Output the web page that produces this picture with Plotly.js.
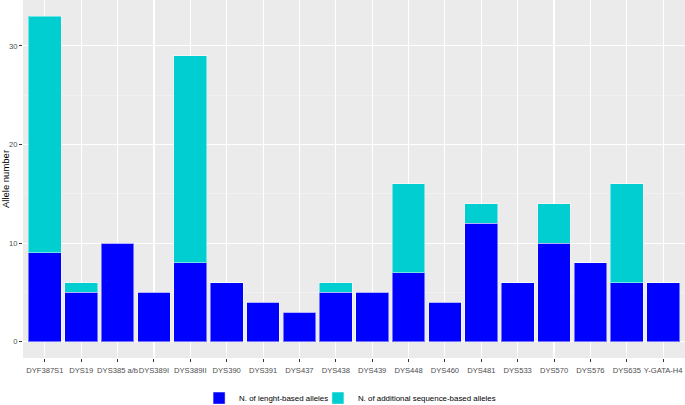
<!DOCTYPE html>
<html>
<head>
<meta charset="utf-8">
<script src="https://cdn.plot.ly/plotly-3.0.1.min.js"></script>
<style>
  html, body { margin: 0; padding: 0; background: #fff; }
  #chart { width: 685px; height: 405px; }
</style>
</head>
<body>
<div id="chart"></div>
<script>
const markers = ['DYF387S1', 'DYS19', 'DYS385 a/b', 'DYS389I', 'DYS389II', 'DYS390', 'DYS391', 'DYS437', 'DYS438', 'DYS439', 'DYS448', 'DYS460', 'DYS481', 'DYS533', 'DYS570', 'DYS576', 'DYS635', 'Y-GATA-H4'];
const lengthBased = [9, 5, 10, 5, 8, 6, 4, 3, 5, 5, 7, 4, 12, 6, 10, 8, 6, 6];
const additional = [24, 1, 0, 0, 21, 0, 0, 0, 1, 0, 9, 0, 2, 0, 4, 0, 10, 0];

const data = [
  {
    x: markers,
    y: lengthBased,
    type: 'bar',
    name: 'N. of lenght-based alleles',
    legend: 'legend',
    width: 0.9,
    marker: {color: '#0000FF', line: {color: 'rgba(255,255,255,0.45)', width: 1}},
    hoverinfo: 'x+y'
  },
  {
    x: markers,
    y: additional,
    type: 'bar',
    name: 'N. of additional sequence-based alleles',
    legend: 'legend2',
    width: 0.9,
    marker: {color: '#00CED1', line: {color: 'rgba(255,255,255,0.45)', width: 1}},
    hoverinfo: 'x+y'
  }
];

// two legends so the gap between entries can be set like ggplot's
const legendBase = {
  orientation: 'h',
  xanchor: 'left',
  y: -0.112, yanchor: 'middle',
  font: {size: 7.9, color: '#000000'},
  bgcolor: 'rgba(0,0,0,0)'
};

const layout = {
  width: 685,
  height: 405,
  margin: {l: 23, r: 0, t: 0, b: 47, autoexpand: false},
  barmode: 'stack',
  paper_bgcolor: '#FFFFFF',
  plot_bgcolor: '#EBEBEB',
  font: {family: 'Liberation Sans, Arial, sans-serif', color: '#4D4D4D', size: 8},
  showlegend: true,
  legend: Object.assign({}, legendBase, {x: 0.266}),
  legend2: Object.assign({}, legendBase, {x: 0.4455}),
  xaxis: {
    type: 'category',
    range: [-0.6, 17.6],
    showgrid: true,
    gridcolor: '#FFFFFF',
    gridwidth: 1.1,
    zeroline: false,
    showline: false,
    ticks: 'outside',
    ticklen: 3,
    tickcolor: '#333333',
    tickwidth: 1,
    tickangle: 0,
    ticklabelstandoff: 2,
    tickfont: {size: 7.6, color: '#4D4D4D'},
    fixedrange: true
  },
  yaxis: {
    range: [-1.65, 34.65],
    tickvals: [0, 10, 20, 30],
    showgrid: true,
    gridcolor: '#FFFFFF',
    gridwidth: 1.1,
    minor: {tickvals: [5, 15, 25], showgrid: true, gridcolor: '#F5F5F5', gridwidth: 0.6, ticks: ''},
    zeroline: false,
    showline: false,
    ticks: 'outside',
    ticklen: 3,
    tickcolor: '#333333',
    tickwidth: 1,
    tickfont: {size: 7.6, color: '#4D4D4D'},
    title: {text: 'Allele number', font: {size: 9.5, color: '#000000'}, standoff: 4},
    fixedrange: true
  }
};

Plotly.newPlot('chart', data, layout, {displayModeBar: false, staticPlot: true});
</script>
</body>
</html>
